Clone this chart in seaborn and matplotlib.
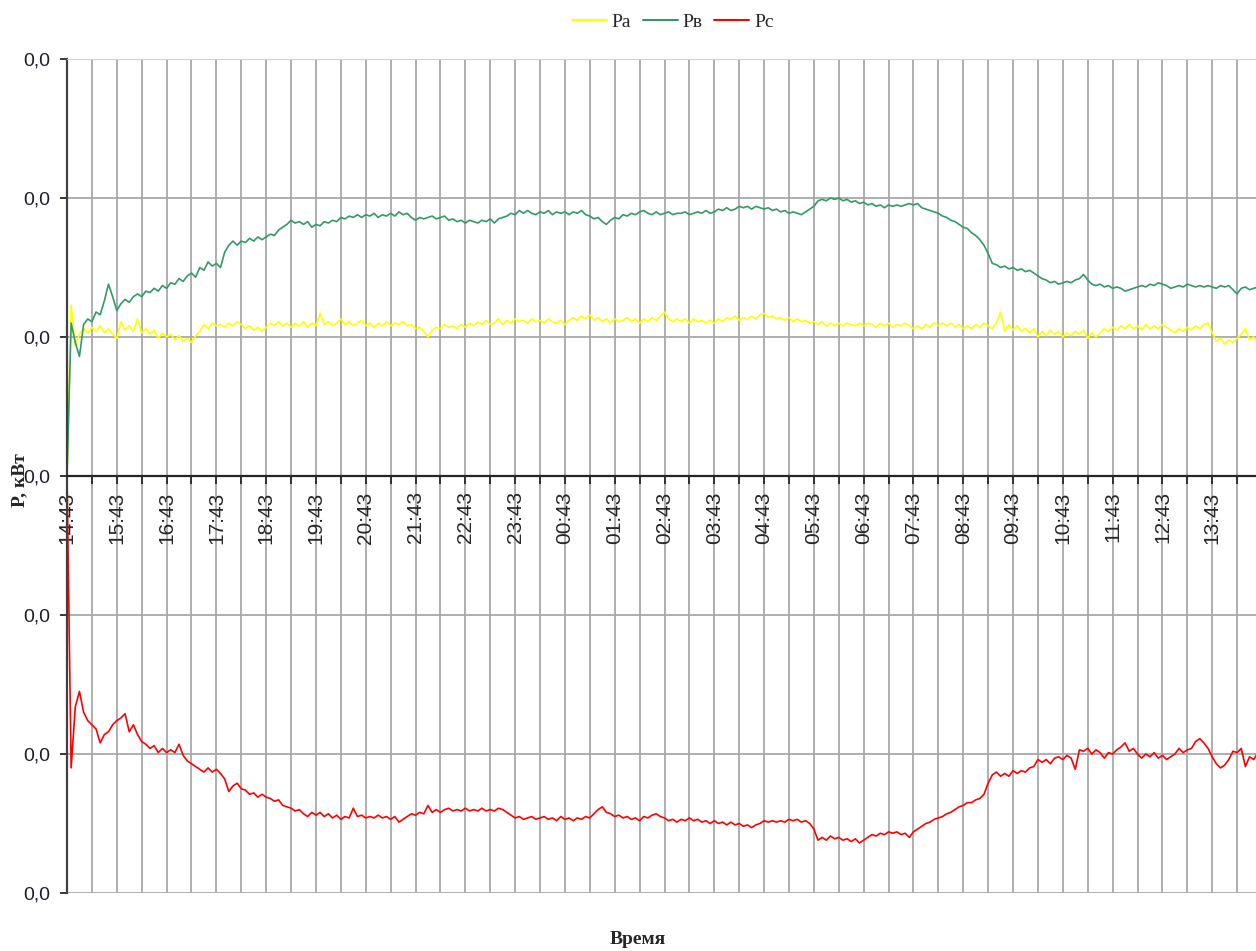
import numpy as np
import pandas as pd
import matplotlib
matplotlib.use("Agg")
import matplotlib.pyplot as plt
import matplotlib.dates as mdates
from matplotlib.ticker import FuncFormatter
import seaborn as sns

# sampling grid of the logger: every 5 minutes starting 14:43
start = "2000-01-01 14:43"
step = "5min"

# phase power, W (one row = one hour)
pa_w = [
    0.0, 12.3, 9.4, 10.2, 10.6, 10.3, 10.7, 10.4, 10.8, 10.3, 10.6, 10.2,
    9.9, 11.1, 10.5, 10.8, 10.4, 11.3, 10.3, 10.6, 10.2, 10.5, 9.9, 10.3,
    10.0, 10.2, 9.8, 10.1, 9.7, 9.9, 9.6, 10.1, 10.4, 10.9, 10.6, 11.0,
    10.8, 10.9, 10.7, 11.0, 10.8, 11.1, 10.9, 10.6, 10.8, 10.5, 10.7, 10.4,
    10.7, 11.0, 10.8, 11.1, 10.8, 11.0, 10.7, 11.0, 10.8, 11.1, 10.7, 11.0,
    10.8, 11.7, 10.9, 11.1, 10.8, 11.0, 11.3, 10.9, 11.1, 10.8, 11.0, 11.2,
    10.8, 11.0, 10.7, 11.0, 10.8, 11.1, 10.8, 11.0, 10.9, 11.1, 10.8, 10.9,
    10.6, 10.7, 10.4, 10.0, 10.5, 10.7, 10.6, 10.9, 10.7, 10.8, 10.6, 10.9,
    10.7, 11.0, 10.8, 11.1, 10.9, 11.2, 10.9, 11.0, 11.3, 10.9, 11.2, 11.0,
    11.3, 11.1, 11.2, 11.0, 11.3, 11.1, 11.2, 11.0, 11.3, 11.1, 11.0, 11.2,
    10.9, 11.2, 11.4, 11.2, 11.5, 11.3, 11.6, 11.2, 11.4, 11.1, 11.3, 11.0,
    11.3, 11.1, 11.2, 11.4, 11.1, 11.3, 11.0, 11.3, 11.1, 11.4, 11.2, 11.5,
    11.8, 11.3, 11.1, 11.3, 11.1, 11.3, 11.0, 11.3, 11.1, 11.2, 11.0, 11.2,
    11.0, 11.3, 11.1, 11.4, 11.3, 11.5, 11.2, 11.4, 11.3, 11.5, 11.3, 11.6,
    11.7, 11.4, 11.5, 11.3, 11.4, 11.2, 11.4, 11.1, 11.3, 11.1, 11.2, 11.0,
    11.1, 10.9, 11.1, 10.8, 11.0, 10.8, 11.0, 10.8, 11.0, 10.9, 10.8, 11.0,
    10.8, 11.0, 10.9, 10.7, 11.0, 10.8, 11.0, 10.7, 10.9, 10.8, 11.0, 10.8,
    10.6, 10.8, 10.6, 10.9, 10.7, 11.0, 10.8, 11.0, 10.8, 11.0, 10.7, 10.9,
    10.6, 10.8, 10.6, 10.9, 10.7, 11.0, 10.8, 10.6, 11.0, 11.8, 10.4, 10.9,
    10.5, 10.8, 10.4, 10.6, 10.3, 10.6, 10.0, 10.4, 10.1, 10.5, 10.2, 10.4,
    10.0, 10.3, 10.1, 10.4, 10.2, 10.5, 9.9, 10.3, 10.0, 10.3, 10.6, 10.4,
    10.7, 10.5, 10.8, 10.6, 10.9, 10.6, 10.8, 10.5, 10.9, 10.6, 10.8, 10.6,
    10.9, 10.7, 10.5, 10.3, 10.6, 10.4, 10.7, 10.5, 10.8, 10.6, 10.9, 11.0,
    10.3, 9.7, 9.9, 9.5, 9.8, 9.6, 9.9, 10.2, 10.6, 9.8, 10.0, 9.5,
]

pv_w = [
    0.0, 11.0, 9.6, 8.6, 10.9, 11.3, 11.1, 11.8, 11.6, 12.6, 13.8, 12.9,
    11.9, 12.4, 12.7, 12.5, 12.9, 13.1, 12.9, 13.3, 13.2, 13.5, 13.3, 13.7,
    13.5, 13.9, 13.8, 14.2, 14.0, 14.4, 14.6, 14.3, 15.0, 14.8, 15.4, 15.1,
    15.3, 15.0, 16.1, 16.6, 16.9, 16.6, 16.9, 16.8, 17.1, 16.9, 17.2, 17.0,
    17.2, 17.4, 17.3, 17.7, 17.9, 18.1, 18.4, 18.2, 18.3, 18.1, 18.3, 17.9,
    18.1, 18.0, 18.3, 18.2, 18.4, 18.3, 18.6, 18.5, 18.7, 18.6, 18.8, 18.6,
    18.8, 18.7, 18.9, 18.6, 18.8, 18.7, 18.9, 18.7, 19.0, 18.8, 18.9, 18.6,
    18.4, 18.6, 18.5, 18.6, 18.7, 18.5, 18.6, 18.7, 18.4, 18.5, 18.3, 18.4,
    18.2, 18.4, 18.3, 18.2, 18.4, 18.3, 18.5, 18.2, 18.5, 18.6, 18.7, 18.9,
    18.8, 19.1, 18.9, 19.1, 18.9, 18.8, 19.0, 18.9, 19.1, 18.8, 19.0, 18.9,
    19.0, 18.8, 19.0, 18.9, 19.1, 18.8, 18.7, 18.5, 18.6, 18.3, 18.1, 18.4,
    18.6, 18.5, 18.8, 18.7, 18.9, 18.8, 19.0, 19.1, 18.9, 18.8, 19.0, 18.8,
    18.9, 19.0, 18.8, 18.9, 18.9, 19.0, 18.8, 18.9, 19.0, 18.9, 19.1, 18.9,
    19.0, 19.2, 19.1, 19.3, 19.1, 19.2, 19.4, 19.3, 19.4, 19.2, 19.4, 19.3,
    19.2, 19.3, 19.1, 19.2, 19.0, 19.1, 18.9, 19.0, 18.9, 18.8, 19.0, 19.2,
    19.4, 19.8, 19.9, 19.8, 20.0, 19.9, 20.0, 19.8, 19.9, 19.7, 19.8, 19.6,
    19.7, 19.5, 19.6, 19.4, 19.5, 19.3, 19.5, 19.4, 19.5, 19.4, 19.5, 19.6,
    19.5, 19.6, 19.3, 19.2, 19.1, 19.0, 18.9, 18.7, 18.6, 18.4, 18.3, 18.1,
    17.9, 17.8, 17.5, 17.3, 17.0, 16.6, 16.0, 15.3, 15.2, 15.0, 15.1, 14.9,
    15.0, 14.8, 14.9, 14.7, 14.8, 14.6, 14.4, 14.2, 14.1, 13.9, 14.0, 13.8,
    13.9, 14.0, 13.9, 14.1, 14.2, 14.5, 14.1, 13.8, 13.7, 13.8, 13.6, 13.7,
    13.5, 13.6, 13.5, 13.3, 13.4, 13.5, 13.6, 13.7, 13.6, 13.8, 13.7, 13.9,
    13.8, 13.7, 13.5, 13.6, 13.7, 13.6, 13.8, 13.7, 13.6, 13.7, 13.6, 13.7,
    13.6, 13.5, 13.7, 13.6, 13.7, 13.4, 13.1, 13.5, 13.6, 13.4, 13.5, 13.6,
]

pc_w = [
    0.0, -21.0, -16.6, -15.5, -17.0, -17.6, -17.9, -18.2, -19.2, -18.6, -18.4, -17.9,
    -17.6, -17.4, -17.1, -18.4, -17.9, -18.6, -19.1, -19.3, -19.6, -19.4, -19.9, -19.6,
    -19.9, -19.7, -19.9, -19.3, -20.1, -20.5, -20.7, -20.9, -21.1, -21.3, -21.0, -21.3,
    -21.1, -21.4, -21.8, -22.7, -22.3, -22.1, -22.5, -22.6, -22.9, -22.8, -23.1, -22.9,
    -23.1, -23.2, -23.4, -23.3, -23.7, -23.8, -23.9, -24.1, -24.0, -24.3, -24.5, -24.2,
    -24.4, -24.2, -24.5, -24.3, -24.6, -24.4, -24.7, -24.5, -24.6, -23.9, -24.5, -24.4,
    -24.6, -24.5, -24.6, -24.4, -24.6, -24.5, -24.7, -24.5, -24.9, -24.7, -24.5, -24.3,
    -24.4, -24.2, -24.3, -23.7, -24.2, -24.0, -24.2, -24.0, -23.9, -24.1, -24.0, -24.1,
    -23.9, -24.1, -24.0, -24.1, -23.9, -24.1, -24.0, -24.1, -23.9, -24.0, -24.2, -24.4,
    -24.6, -24.5, -24.7, -24.6, -24.5, -24.7, -24.6, -24.5, -24.7, -24.6, -24.8, -24.5,
    -24.7, -24.6, -24.8, -24.6, -24.7, -24.5, -24.6, -24.3, -24.0, -23.8, -24.2, -24.3,
    -24.5, -24.4, -24.6, -24.5, -24.7, -24.6, -24.8, -24.5, -24.6, -24.4, -24.3, -24.5,
    -24.6, -24.8, -24.7, -24.9, -24.7, -24.8, -24.6, -24.8, -24.7, -24.9, -24.8, -25.0,
    -24.8, -25.0, -24.9, -25.1, -24.9, -25.1, -25.0, -25.2, -25.1, -25.3, -25.1, -25.0,
    -24.8, -24.9, -24.8, -24.9, -24.8, -24.9, -24.7, -24.8, -24.7, -24.9, -24.8, -25.0,
    -25.4, -26.2, -26.0, -26.2, -25.9, -26.1, -26.0, -26.2, -26.1, -26.3, -26.1, -26.4,
    -26.2, -26.0, -25.8, -25.9, -25.7, -25.8, -25.6, -25.7, -25.6, -25.8, -25.7, -26.0,
    -25.6, -25.4, -25.2, -25.0, -24.9, -24.7, -24.6, -24.5, -24.3, -24.2, -24.0, -23.8,
    -23.7, -23.5, -23.5, -23.3, -23.2, -22.9, -22.1, -21.5, -21.3, -21.6, -21.4, -21.6,
    -21.2, -21.4, -21.2, -21.3, -21.0, -20.9, -20.4, -20.6, -20.4, -20.7, -20.3, -20.2,
    -20.4, -20.1, -20.3, -21.1, -19.7, -19.8, -19.6, -20.0, -19.7, -19.9, -20.3, -19.9,
    -20.0, -19.7, -19.5, -19.2, -19.8, -19.6, -20.0, -20.3, -20.0, -20.2, -19.9, -20.3,
    -20.1, -20.4, -20.2, -20.0, -19.6, -19.9, -19.7, -19.6, -19.1, -18.9, -19.2, -19.6,
    -20.2, -20.7, -21.0, -20.8, -20.4, -19.8, -19.9, -19.6, -20.9, -20.2, -20.4, -19.9,
]

phases = ["Ра", "Рв", "Рс"]
colors = ["#ffff00", "#339966", "#ff0000"]
y_ticks_kw = [-0.03, -0.02, -0.01, 0.0, 0.01, 0.02, 0.03]

times = pd.date_range(start, periods=len(pa_w), freq=step)
df = pd.DataFrame({
    "time": np.tile(times.values, 3),
    "kw": np.array(pa_w + pv_w + pc_w) / 1000.0,
    "phase": np.repeat(phases, len(times)),
})

sns.set_style("white")
plt.rcParams["font.family"] = ["Liberation Sans", "DejaVu Sans"]

fig = plt.figure(figsize=(12.56, 9.51), dpi=100)
ax = fig.add_axes([67 / 1256, 1 - 893 / 951, 1195 / 1256, 834 / 951])

sns.lineplot(data=df, x="time", y="kw", hue="phase", palette=dict(zip(phases, colors)),
             linewidth=1.2, errorbar=None, sort=False, ax=ax)

t0 = times[0]
ax.set_xlim(t0, t0 + pd.Timedelta(hours=24))
ax.set_ylim(y_ticks_kw[0], y_ticks_kw[-1])

ax.set_xticks(pd.date_range(t0, periods=24, freq="1h"))
ax.set_xticks(pd.date_range(t0 + pd.Timedelta(minutes=30), periods=24, freq="1h"), minor=True)
ax.xaxis.set_major_formatter(mdates.DateFormatter("%H:%M"))
ax.set_yticks(y_ticks_kw)
ax.yaxis.set_major_formatter(FuncFormatter(lambda v, _: f"{abs(v):.1f}".replace(".", ",")))

ax.set_axisbelow(True)
ax.grid(True, axis="x", which="both", color="#a8a8a8", lw=1.3)
ax.grid(True, axis="y", which="major", color="#a8a8a8", lw=1.3)

ax.spines["bottom"].set_position(("data", 0))
ax.spines["bottom"].set_color("#262626")
ax.spines["bottom"].set_linewidth(1.6)
ax.spines["left"].set_color("#404040")
ax.spines["left"].set_linewidth(1.6)
ax.spines["top"].set_color("#d0d0d0")
ax.spines["right"].set_visible(False)

ax.tick_params(axis="x", which="both", direction="out", length=6, width=1.3,
               color="#262626", pad=5, labelsize=15, labelrotation=90, bottom=True)
ax.tick_params(axis="y", direction="out", length=5, width=1.3, color="#262626",
               pad=7, labelsize=14, labelcolor="#1e1e2a", left=True)

ax.set_xlabel("")
ax.set_ylabel("")

sns.move_legend(ax, "center", bbox_to_anchor=(0.507, 1.044), ncol=3, frameon=False,
                title=None, handlelength=1.8, handletextpad=0.25, columnspacing=0.6,
                prop={"family": "Liberation Serif", "size": 14})
for line in ax.get_legend().get_lines():
    line.set_linewidth(1.5)

fig.text(20 / 1256, 1 - 480 / 951, "P, кВт", rotation=90, ha="center", va="center",
         fontsize=14, fontweight="bold", family="Liberation Serif")
fig.text(638 / 1256, 1 - 939 / 951, "Время", ha="center", va="center",
         fontsize=14, fontweight="bold", family="Liberation Serif")

fig.savefig("out.png", dpi=100)
